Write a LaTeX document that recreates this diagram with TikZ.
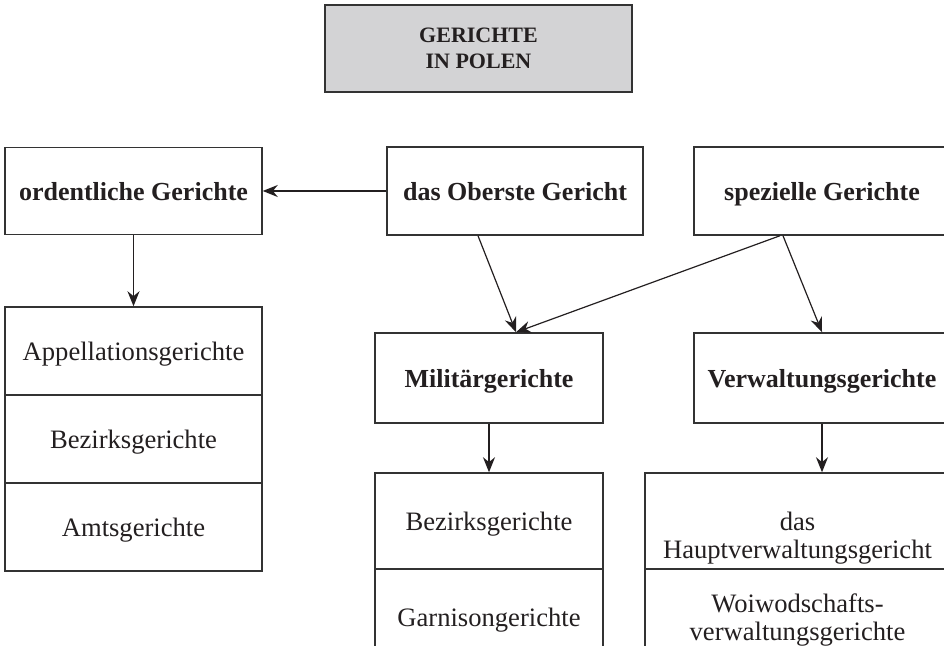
\documentclass[tikz,border=0pt]{standalone}
\usepackage{fontspec}
\setmainfont{Liberation Serif}
\usetikzlibrary{arrows.meta}
\definecolor{rahmen}{RGB}{51,51,51}
\definecolor{fuellung}{RGB}{211,211,213}
\definecolor{schrift}{RGB}{35,31,32}
\begin{document}
\begin{tikzpicture}[x=0.5pt, y=-0.5pt, font=\fontsize{13.3}{14}\selectfont, text=schrift,
  kasten/.style={draw=rahmen, line width=0.75pt, inner sep=0pt, align=center, text depth=-2pt},
  fett/.style={font=\fontsize{13}{12.5}\selectfont\bfseries},
  pfeil/.style={-{Stealth[length=7.5pt, width=6pt]}, line width=0.6pt, draw=schrift}]
\useasboundingbox (0,0) rectangle (944,646);
\clip (0,0) rectangle (944,646);
\node[kasten, fill=fuellung, line width=1pt, minimum width=153.5pt, minimum height=43.5pt, text depth=0pt, font=\fontsize{11}{13}\selectfont\bfseries] (P_1_-1) at (478.5,48.5) {GERICHTE\\IN POLEN};
\node[kasten, fett, minimum width=128.5pt, minimum height=43.5pt] (P_0_0) at (133.5,191) {ordentliche Gerichte};
\node[kasten, fett, minimum width=128pt, minimum height=44pt] (P_1_0) at (515,191) {das Oberste Gericht};
\draw[pfeil] (P_1_0) -- (P_0_0);
\node[kasten, fett, minimum width=128pt, minimum height=44pt] (P_2_0) at (822,191) {spezielle Gerichte};
\node[kasten, minimum width=128.5pt, minimum height=44pt] (P_0_1) at (133.5,351) {Appellationsgerichte};
\draw[pfeil] (P_0_0) -- (P_0_1);
\node[kasten, minimum width=128.5pt, minimum height=44pt] (P_0_2) at (133.5,439) {Bezirksgerichte};
\node[kasten, minimum width=128.5pt, minimum height=44pt] (P_0_3) at (133.5,527) {Amtsgerichte};
\node[kasten, fett, minimum width=114pt, minimum height=45pt] (P_1_1) at (489,378) {Militärgerichte};
\draw[pfeil] ([shift={(-37,0)}]P_1_0.south) -- ([shift={(27,0)}]P_1_1.north);
\draw[pfeil] ([shift={(-42,0)}]P_2_0.south) -- ([shift={(27,0)}]P_1_1.north);
\node[kasten, fett, minimum width=128pt, minimum height=45pt] (P_2_1) at (822,378) {Verwaltungsgerichte};
\draw[pfeil] ([shift={(-39,0)}]P_2_0.south) -- (P_2_1.north);
\node[kasten, minimum width=114pt, minimum height=48pt] (P_1_2) at (489,521) {Bezirksgerichte};
\draw[pfeil] (P_1_1) -- (P_1_2);
\node[kasten, minimum width=114pt, minimum height=48pt] (P_1_3) at (489,617) {Garnisongerichte};
\node[kasten, minimum width=152.5pt, minimum height=48pt] (P_2_2) at (797.5,521) {\rule{0pt}{24pt}das\\Hauptverwaltungsgericht};
\draw[pfeil] (P_2_1) -- (P_2_1 |- P_2_2.north);
\node[kasten, minimum width=152.5pt, minimum height=48pt] (P_2_3) at (797.5,617) {Woiwodschafts-\\verwaltungsgerichte};
\end{tikzpicture}
\end{document}
